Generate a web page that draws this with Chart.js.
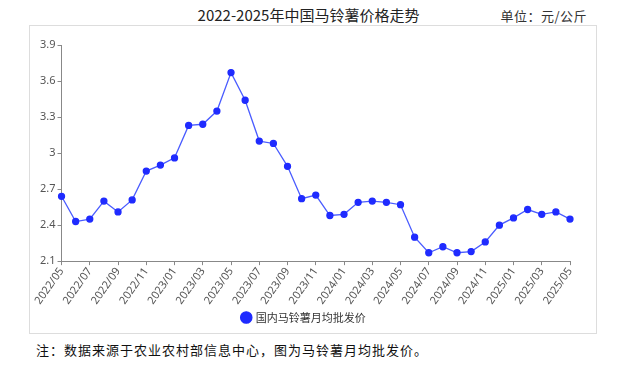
<!DOCTYPE html>
<html><head><meta charset="UTF-8">
<title>2022-2025年中国马铃薯价格走势</title>
<script src="https://cdn.jsdelivr.net/npm/chart.js"></script>
<style>
  body{margin:0;background:#fff;width:617px;height:365px;position:relative;overflow:hidden;font-family:"Noto Sans CJK SC",sans-serif}
  #title{position:absolute;left:0;width:617px;top:4px;text-align:center;font-size:15px;color:#222}
  #unit{position:absolute;right:30px;top:6px;font-size:13px;color:#333;letter-spacing:0.5px}
  #box{position:absolute;left:29px;top:25px;width:566px;height:307px;border:1px solid #ddd}
  #note{position:absolute;left:36px;top:340px;font-size:13px;color:#111;letter-spacing:1px}
</style>
</head><body>
<div id="title">2022-2025年中国马铃薯价格走势</div>
<div id="unit">单位：元/公斤</div>
<div id="box"><canvas id="chart" width="566" height="307"></canvas></div>
<div id="note">注：数据来源于农业农村部信息中心，图为马铃薯月均批发价。</div>
<script>
  const months = ["2022/05","2022/06","2022/07","2022/08","2022/09","2022/10","2022/11","2022/12",
    "2023/01","2023/02","2023/03","2023/04","2023/05","2023/06","2023/07","2023/08","2023/09","2023/10","2023/11","2023/12",
    "2024/01","2024/02","2024/03","2024/04","2024/05","2024/06","2024/07","2024/08","2024/09","2024/10","2024/11","2024/12",
    "2025/01","2025/02","2025/03","2025/04","2025/05"];
  const prices = [2.64,2.43,2.45,2.60,2.51,2.61,2.85,2.90,
    2.96,3.23,3.24,3.35,3.67,3.44,3.10,3.08,2.89,2.62,2.65,2.48,
    2.49,2.59,2.60,2.59,2.57,2.30,2.17,2.22,2.17,2.18,2.26,2.40,
    2.46,2.53,2.49,2.51,2.45];
  const yTicks = [2.1,2.4,2.7,3,3.3,3.6,3.9];

  const tickFont = {family:"Noto Sans", size:11};
  new Chart(document.getElementById("chart"), {
    type: "line",
    data: {
      labels: months,
      datasets: [{
        label: "国内马铃薯月均批发价",
        data: prices,
        borderColor: "#4a5cff",
        backgroundColor: "#1f2bff",
        pointBackgroundColor: "#1f2bff",
        pointBorderColor: "#1f2bff",
        borderWidth: 1.3,
        pointRadius: 3,
        tension: 0
      }]
    },
    options: {
      responsive: false,
      animation: false,
      layout: {padding: {left: 8, right: 26, top: 19, bottom: 0}},
      plugins: {
        legend: {
          position: "bottom",
          labels: {usePointStyle: true, pointStyle: "circle", boxWidth: 8, boxHeight: 8, color: "#333",
                   font: {family: "Noto Sans CJK SC", size: 11}, padding: 5}
        },
        tooltip: {enabled: false}
      },
      scales: {
        x: {
          offset: false,
          grid: {drawOnChartArea: false, drawTicks: true, tickLength: 4, color: "#888"},
          border: {color: "#888"},
          ticks: {
            autoSkip: false, maxRotation: 55, minRotation: 55, color: "#555", font: tickFont, padding: 0,
            callback: function(v, i) { return i % 2 === 0 ? months[i] : null; }
          }
        },
        y: {
          min: 2.1, max: 3.9,
          afterBuildTicks: axis => { axis.ticks = yTicks.map(v => ({value: v})); },
          grid: {drawOnChartArea: false, drawTicks: true, tickLength: 4, color: "#888"},
          border: {color: "#888"},
          ticks: {color: "#555", font: tickFont, padding: 2, callback: v => String(v)}
        }
      }
    }
  });
</script>
</body></html>
